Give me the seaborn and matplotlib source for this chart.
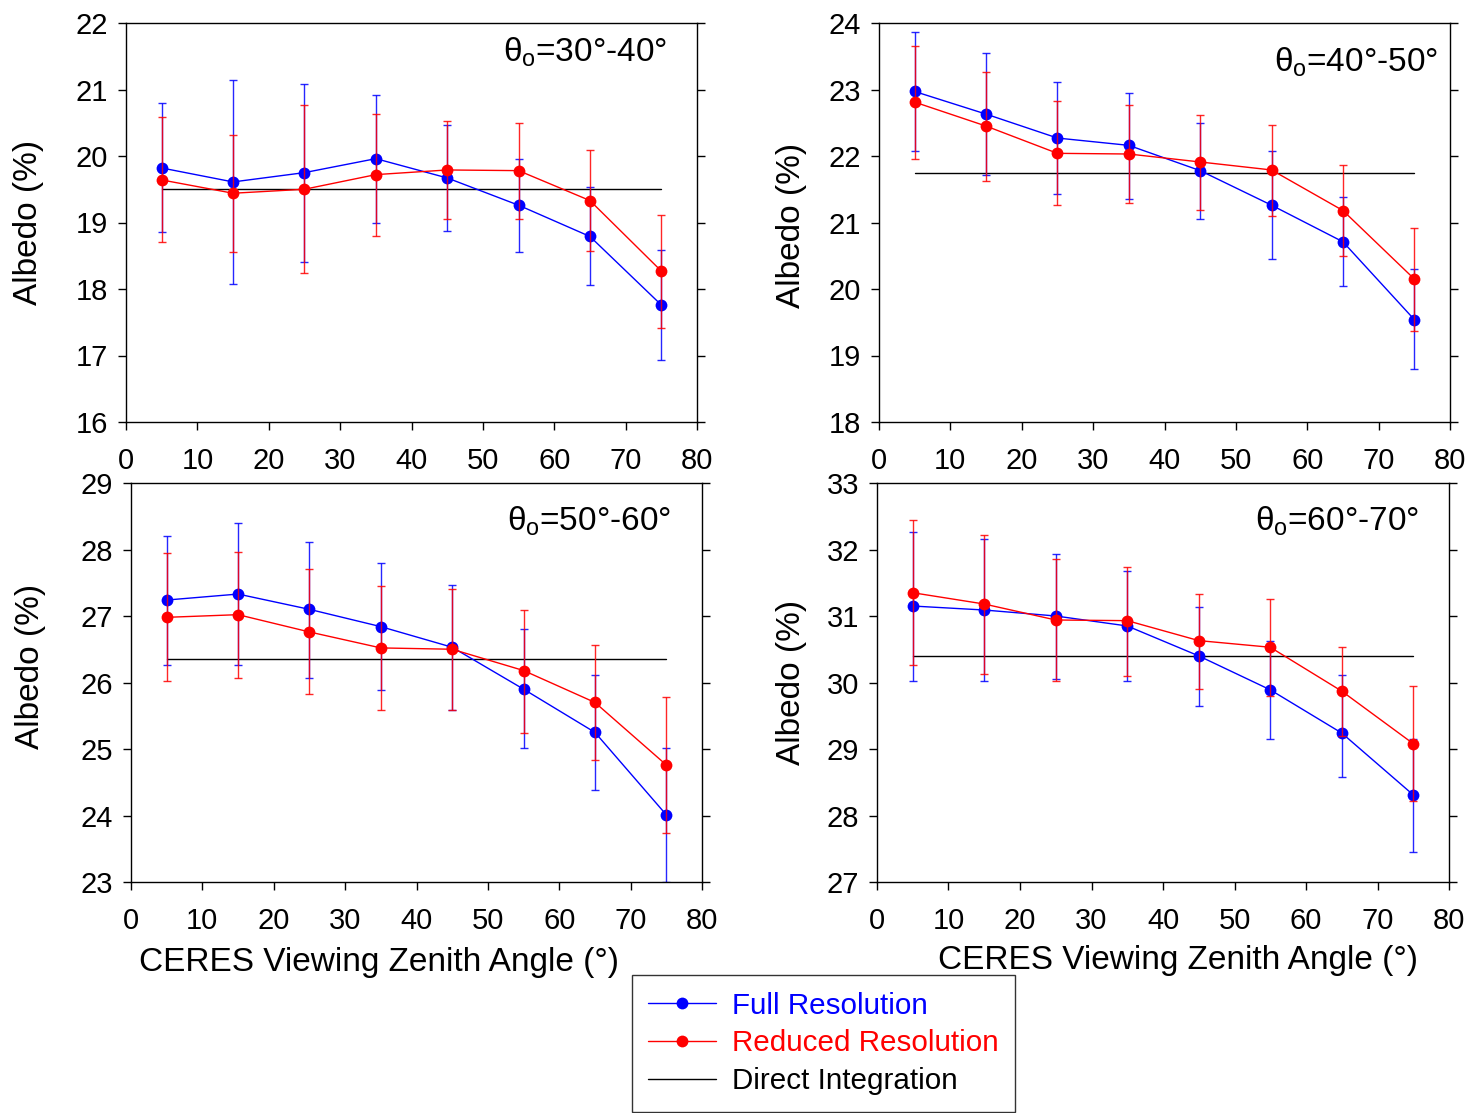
import matplotlib
matplotlib.use("Agg")
import matplotlib.pyplot as plt
from matplotlib.lines import Line2D
import seaborn as sns

# CERES viewing zenith angle bins (degrees)
vza = [5, 15, 25, 35, 45, 55, 65, 75]

# Solar zenith 30-40
full_3040 = [19.82, 19.61, 19.75, 19.96, 19.67, 19.26, 18.79, 17.76]
full_3040_hi = [20.80, 21.14, 21.08, 20.92, 20.47, 19.96, 19.53, 18.58]
full_3040_lo = [18.85, 18.07, 18.41, 18.99, 18.87, 18.56, 18.06, 16.93]
red_3040 = [19.64, 19.44, 19.50, 19.72, 19.79, 19.78, 19.33, 18.27]
red_3040_hi = [20.59, 20.32, 20.77, 20.63, 20.52, 20.50, 20.09, 19.11]
red_3040_lo = [18.70, 18.56, 18.24, 18.80, 19.05, 19.06, 18.57, 17.42]
direct_3040 = 19.50

# Solar zenith 40-50
full_4050 = [22.97, 22.63, 22.27, 22.16, 21.78, 21.26, 20.71, 19.54]
full_4050_hi = [23.87, 23.55, 23.12, 22.94, 22.49, 22.07, 21.38, 20.30]
full_4050_lo = [22.07, 21.72, 21.43, 21.36, 21.06, 20.45, 20.04, 18.79]
red_4050 = [22.81, 22.45, 22.04, 22.03, 21.91, 21.79, 21.18, 20.15]
red_4050_hi = [23.66, 23.27, 22.82, 22.76, 22.61, 22.47, 21.87, 20.92]
red_4050_lo = [21.95, 21.62, 21.26, 21.29, 21.19, 21.10, 20.50, 19.37]
direct_4050 = 21.74

# Solar zenith 50-60
full_5060 = [27.24, 27.33, 27.10, 26.84, 26.53, 25.90, 25.25, 24.01]
full_5060_hi = [28.21, 28.40, 28.11, 27.80, 27.46, 26.81, 26.11, 25.02]
full_5060_lo = [26.26, 26.27, 26.07, 25.88, 25.59, 25.01, 24.38, 23.00]
red_5060 = [26.98, 27.02, 26.76, 26.52, 26.50, 26.18, 25.70, 24.76]
red_5060_hi = [27.94, 27.96, 27.70, 27.45, 27.41, 27.09, 26.57, 25.78]
red_5060_lo = [26.02, 26.07, 25.83, 25.59, 25.58, 25.24, 24.83, 23.73]
direct_5060 = 26.35

# Solar zenith 60-70
full_6070 = [31.15, 31.09, 31.00, 30.85, 30.40, 29.89, 29.24, 28.31]
full_6070_hi = [32.26, 32.16, 31.93, 31.68, 31.14, 30.63, 30.11, 29.15]
full_6070_lo = [30.02, 30.03, 30.05, 30.03, 29.65, 29.15, 28.58, 27.45]
red_6070 = [31.35, 31.18, 30.94, 30.93, 30.63, 30.53, 29.87, 29.08]
red_6070_hi = [32.45, 32.22, 31.85, 31.74, 31.33, 31.26, 30.53, 29.95]
red_6070_lo = [30.26, 30.13, 30.03, 30.10, 29.90, 29.79, 29.20, 28.22]
direct_6070 = 30.40

panel_titles = ["30°-40°", "40°-50°", "50°-60°", "60°-70°"]
y_limits = [(16, 22), (18, 24), (23, 29), (27, 33)]
x_ticks = [0, 10, 20, 30, 40, 50, 60, 70, 80]
series_labels = ["Full Resolution", "Reduced Resolution", "Direct Integration"]
x_label = "CERES Viewing Zenith Angle (°)"
y_label = "Albedo (%)"

sns.set_style("ticks")
plt.rcParams["font.family"] = ["Liberation Sans", "DejaVu Sans"]
plt.rcParams["text.color"] = "black"
plt.rcParams["axes.labelcolor"] = "black"
plt.rcParams["mathtext.fontset"] = "custom"
plt.rcParams["mathtext.rm"] = "Liberation Sans"
plt.rcParams["mathtext.it"] = "Liberation Sans"
plt.rcParams["mathtext.bf"] = "Liberation Sans:bold"

W, H = 1471, 1113
fig = plt.figure(figsize=(W / 100, H / 100), dpi=100)


def rect(l, t, r, b):
    return [l / W, 1 - b / H, (r - l) / W, (b - t) / H]


boxes = [(126, 23, 697, 422), (879, 23, 1450, 422),
         (131, 483, 702, 882), (877, 483, 1449, 882)]

panels = [
    (full_3040, full_3040_hi, full_3040_lo, red_3040, red_3040_hi, red_3040_lo, direct_3040),
    (full_4050, full_4050_hi, full_4050_lo, red_4050, red_4050_hi, red_4050_lo, direct_4050),
    (full_5060, full_5060_hi, full_5060_lo, red_5060, red_5060_hi, red_5060_lo, direct_5060),
    (full_6070, full_6070_hi, full_6070_lo, red_6070, red_6070_hi, red_6070_lo, direct_6070),
]

BLUE = "#0000ff"
RED = "#ff0000"
TICK_FS = 21
LABEL_FS = 24
MS = 8.5

# title anchor (right edge, baseline) in pixels
title_pos = [(667, 62), (1438, 72), (671, 531), (1419, 531)]
ylabel_pos = [(29, 222), (791, 225), (31, 666), (791, 682)]
xlabel_pos = [(379, 962), (1178, 960)]

for i, (box, data) in enumerate(zip(boxes, panels)):
    f, fhi, flo, r, rhi, rlo, d = data
    ax = fig.add_axes(rect(*box))
    ax.set_facecolor("white")

    # direct integration reference line
    sns.lineplot(x=[vza[0], vza[-1]], y=[d, d], color="black", linewidth=1.0, ax=ax)

    for mean, hi, lo, col in ((f, fhi, flo, BLUE), (r, rhi, rlo, RED)):
        yerr = [[m - l for m, l in zip(mean, lo)], [h - m for m, h in zip(mean, hi)]]
        ax.errorbar(vza, mean, yerr=yerr, fmt="none", ecolor=col, elinewidth=1.0,
                    capsize=3.2, capthick=1.0, alpha=0.85)
        sns.lineplot(x=vza, y=mean, color=col, linewidth=1.0, marker="o",
                     markersize=MS, markeredgewidth=0, ax=ax)

    ax.set_xlim(0, 80)
    ax.set_ylim(*y_limits[i])
    ax.set_xticks(x_ticks)
    ax.set_yticks(range(y_limits[i][0], y_limits[i][1] + 1))
    ax.set_xlabel("")
    ax.set_ylabel("")
    ax.tick_params(axis="both", direction="out", length=6, width=1, colors="black",
                   labelsize=TICK_FS)
    ax.tick_params(axis="y", right=True, pad=7)
    ax.tick_params(axis="x", pad=12)
    for s in ax.spines.values():
        s.set_visible(True)
        s.set_linewidth(1.0)
        s.set_color("black")

    tx, ty = title_pos[i]
    fig.text(tx / W, 1 - ty / H, r"$\theta_\mathrm{o}$=" + panel_titles[i],
             ha="right", va="baseline", fontsize=LABEL_FS, color="black")
    lx, ly = ylabel_pos[i]
    fig.text(lx / W, 1 - ly / H, y_label, rotation=90, ha="center", va="center",
             fontsize=LABEL_FS, color="black")

for lx, ly in xlabel_pos:
    fig.text(lx / W, 1 - ly / H, x_label, ha="center", va="center",
             fontsize=LABEL_FS, color="black")

handles = [
    Line2D([], [], color=BLUE, linewidth=1.0, marker="o", markersize=MS, markeredgewidth=0),
    Line2D([], [], color=RED, linewidth=1.0, marker="o", markersize=MS, markeredgewidth=0),
    Line2D([], [], color="black", linewidth=1.0),
]
leg = fig.legend(handles, series_labels, loc="lower center",
                 bbox_to_anchor=(823.5 / W, 1.5 / H), frameon=True, fancybox=False,
                 edgecolor="black", fontsize=21.3, handlelength=2.3, handletextpad=0.55,
                 labelspacing=0.33, borderpad=0.55, borderaxespad=0,
                 labelcolor=[BLUE, RED, "black"])
leg.get_frame().set_linewidth(1.0)

fig.savefig("out.png", dpi=100, facecolor="white")
